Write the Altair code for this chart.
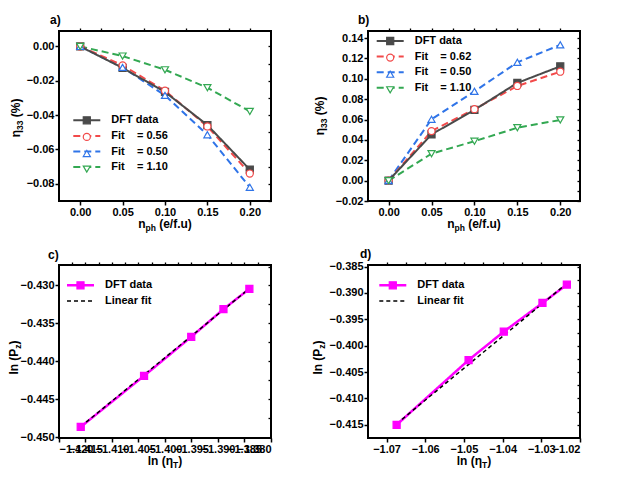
import altair as alt
import pandas as pd

FONT = "Liberation Sans"
NB = "\u00a0"

# ---------------- data ----------------
n_ph = [0.0, 0.05, 0.10, 0.15, 0.20]

a_names = ["DFT data", "Fit" + NB * 4 + "= 0.56", "Fit" + NB * 4 + "= 0.50", "Fit" + NB * 4 + "= 1.10"]
a_dft = [0.0, -0.0125, -0.0265, -0.0458, -0.0717]
a_fit1 = [0.0, -0.011, -0.0258, -0.0466, -0.074]
a_fit2 = [0.0, -0.0122, -0.0285, -0.0514, -0.082]
a_fit3 = [0.0, -0.0056, -0.0136, -0.024, -0.0378]

b_names = ["DFT data", "Fit" + NB * 4 + "= 0.62", "Fit" + NB * 4 + "= 0.50", "Fit" + NB * 4 + "= 1.10"]
b_dft = [0.0, 0.0454, 0.0695, 0.096, 0.1123]
b_fit1 = [0.0, 0.0487, 0.0702, 0.093, 0.107]
b_fit2 = [0.0, 0.0603, 0.0877, 0.1162, 0.1334]
b_fit3 = [0.0, 0.0265, 0.0387, 0.052, 0.0596]

cd_names = ["DFT data", "Linear fit"]
c_x = [-1.4159, -1.40395, -1.39505, -1.38897, -1.38408]
c_y = [-0.44864, -0.44191, -0.43677, -0.43312, -0.43044]
c_fit_x = [-1.4159, -1.38408]
c_fit_y = [-0.4486, -0.4304]

d_x = [-1.0674, -1.0488, -1.0397, -1.0297, -1.0234]
d_y = [-0.4150, -0.40272, -0.39734, -0.3919, -0.38842]
d_fit_x = [-1.0674, -1.0234]
d_fit_y = [-0.4148, -0.3882]

# tick values (labelled axes)
a_xticks = [0.0, 0.05, 0.10, 0.15, 0.20]
a_yticks = [-0.08, -0.06, -0.04, -0.02, 0.0]
b_yticks = [-0.02, 0.0, 0.02, 0.04, 0.06, 0.08, 0.10, 0.12, 0.14]
c_xticks = [-1.420, -1.415, -1.410, -1.405, -1.400, -1.395, -1.390, -1.385, -1.380]
c_yticks = [-0.450, -0.445, -0.440, -0.435, -0.430]
d_xticks = [-1.07, -1.06, -1.05, -1.04, -1.03, -1.02]
d_yticks = [-0.415, -0.410, -0.405, -0.400, -0.395, -0.390, -0.385]
# mirror (top / right) tick values
ab_top = [0.0, 0.025, 0.05, 0.075, 0.10, 0.125, 0.15, 0.175, 0.20]
a_right = [-0.09, -0.08, -0.07, -0.06, -0.05, -0.04, -0.03, -0.02, -0.01, 0.0]
b_right = [-0.02, -0.01, 0.0, 0.01, 0.02, 0.03, 0.04, 0.05, 0.06, 0.07, 0.08, 0.09,
           0.10, 0.11, 0.12, 0.13, 0.14]
c_top = [-1.4175, -1.415, -1.4125, -1.41, -1.4075, -1.405, -1.4025, -1.40, -1.3975,
         -1.395, -1.3925, -1.39, -1.3875, -1.385, -1.3825]
c_right = [-0.4475, -0.445, -0.4425, -0.44, -0.4375, -0.435, -0.4325, -0.43, -0.4275]
d_top = [-1.07, -1.065, -1.06, -1.055, -1.05, -1.045, -1.04, -1.035, -1.03, -1.025]
d_right = [-0.415, -0.4125, -0.41, -0.4075, -0.405, -0.4025, -0.40, -0.3975, -0.395,
           -0.3925, -0.39, -0.3875, -0.385]

GRAY, RED, BLUE, GREEN = "#4a4a4a", "#f24a4a", "#2f74e8", "#33a852"
MAG = "#ff00ff"

EM = {"l": .278, "n": .611, " ": .278, "(": .333, ")": .333, "P": .667, "z": .5,
      "T": .611, "\u03b7": .611, "e": .556, "/": .278, "f": .333, ".": .278,
      "u": .611, "p": .611, "h": .611, "3": .556, "%": .889}
MAIN, SUB = 12, 8.5


def tw(s, size):
    return sum(EM.get(ch, 0.6) for ch in s) * size


def title_layers(pieces, x, y, angle=0):
    # pieces: (text, is_subscript, gap_before_px)
    total = sum(tw(t, SUB if s else MAIN) + g for t, s, g in pieces)
    cur = -total / 2
    out = []
    for t, s, g in pieces:
        cur += g
        size = SUB if s else MAIN
        kw = dict(align="left", baseline="alphabetic", font=FONT, fontWeight="bold",
                  fontSize=size, dx=cur, dy=3 if s else 0, color="black")
        if angle:
            kw["angle"] = angle
        out.append(alt.Chart(pd.DataFrame({"t": [t]})).mark_text(**kw).encode(
            x=alt.value(x), y=alt.value(y), text="t:N"))
        cur += tw(t, size)
    return out


def long_df(xs_list, ys_list, names):
    rows = []
    for xs, ys, nm in zip(xs_list, ys_list, names):
        for xv, yv in zip(xs, ys):
            rows.append({"x": xv, "y": yv, "series": nm, "key": "p_" + nm})
    return pd.DataFrame(rows)


def panel(line_df, pt_df, names, pt_names, colors, dashes, widths, shapes, fills,
          xdom, xticks, xfmt, ydom, yticks, yfmt, top_t, right_t, W, H, label,
          label_dx, label_dy, xtitle, ytitle, ytx, yty, lx, ly, pt_colors):
    xs = alt.Scale(domain=xdom, nice=False, zero=False)
    ys = alt.Scale(domain=ydom, nice=False, zero=False)
    common_leg = dict(title=None, orient="none", legendX=lx, legendY=ly,
                      labelFont=FONT, labelFontSize=11, labelFontWeight="bold",
                      labelColor="black", rowPadding=3.6, padding=0, symbolOffset=8,
                      labelLimit=300)
    leg_line = alt.Legend(symbolType="M-4,0L4,0", symbolSize=45.5625, symbolStrokeWidth=2,
                          labelOffset=19, **common_leg)
    leg_pt = alt.Legend(symbolSize=50, symbolStrokeWidth=1.2, labelOffset=19,
                        labelOpacity=0, **common_leg)
    ax_kw = dict(title=None, labelFont=FONT, labelFontSize=11, labelFontWeight="bold",
                 labelColor="black", tickColor="black", tickWidth=1.5, tickSize=4,
                 labelPadding=1, domain=False, grid=False, labelOverlap=False,
                 labelBound=False)
    line = alt.Chart(line_df).mark_line(clip=True).encode(
        x=alt.X("x:Q", scale=xs, axis=alt.Axis(orient="bottom", values=xticks,
                                                format=xfmt, **ax_kw)),
        y=alt.Y("y:Q", scale=ys, axis=alt.Axis(orient="left", values=yticks,
                                                format=yfmt, **ax_kw)),
        color=alt.Color("series:N", scale=alt.Scale(domain=names, range=colors),
                        legend=leg_line),
        strokeDash=alt.StrokeDash("series:N", scale=alt.Scale(domain=names, range=dashes),
                                  legend=leg_line),
        strokeWidth=alt.StrokeWidth("series:N", scale=alt.Scale(domain=names, range=widths),
                                    legend=None),
    )
    mir_kw = dict(title=None, labels=False, tickColor="black", tickWidth=1.3,
                  tickSize=3, domain=False, grid=False)
    keys = ["p_" + n for n in pt_names]
    pts = alt.Chart(pt_df).mark_point(size=50, strokeWidth=1.2, opacity=1,
                                      filled=False, clip=True).encode(
        x=alt.X("x:Q", scale=xs, axis=alt.Axis(orient="top", values=top_t, **mir_kw)),
        y=alt.Y("y:Q", scale=ys, axis=alt.Axis(orient="left", offset=-W,
                                                values=right_t, **mir_kw)),
        stroke=alt.Stroke("key:N", scale=alt.Scale(domain=keys, range=pt_colors),
                          legend=leg_pt),
        fill=alt.Fill("key:N", scale=alt.Scale(domain=keys, range=fills), legend=leg_pt),
        shape=alt.Shape("key:N", scale=alt.Scale(domain=keys, range=shapes),
                        legend=leg_pt),
    )
    lab = alt.Chart(pd.DataFrame({"t": [label]})).mark_text(
        align="left", baseline="alphabetic", font=FONT, fontWeight="bold",
        fontSize=12, color="black").encode(
        x=alt.value(label_dx), y=alt.value(label_dy), text="t:N")
    layers = [line, pts, lab]
    layers += title_layers(xtitle, W / 2, H + 27)
    layers += title_layers(ytitle, ytx, H / 2 + yty, angle=270)
    return alt.layer(*layers).resolve_axis(x="independent", y="independent").properties(
        width=W, height=H)


a_line = long_df([n_ph] * 4, [a_fit3, a_fit2, a_fit1, a_dft], a_names[::-1])
a_pt = long_df([n_ph] * 4, [a_dft, a_fit1, a_fit2, a_fit3], a_names)
b_line = long_df([n_ph] * 4, [b_fit3, b_fit2, b_fit1, b_dft], b_names[::-1])
b_pt = long_df([n_ph] * 4, [b_dft, b_fit1, b_fit2, b_fit3], b_names)
c_line = long_df([c_x, c_fit_x], [c_y, c_fit_y], cd_names)
c_pt = long_df([c_x], [c_y], cd_names[:1])
d_line = long_df([d_x, d_fit_x], [d_y, d_fit_y], cd_names)
d_pt = long_df([d_x], [d_y], cd_names[:1])

four_colors = [GRAY, RED, BLUE, GREEN]
four_dash = [[1, 0], [7, 4], [7, 4], [7, 4]]
four_w = [2, 2, 2, 2]
four_shapes = ["square", "circle", "triangle-up", "triangle-down"]
four_fills = [GRAY, "white", "white", "white"]

eta33 = [("\u03b7", False, 0), ("33", True, 0), ("(%)", False, 3.3)]
nph = [("n", False, 0), ("ph", True, 0), ("(e/f.u)", False, 3.3)]
lnP = [("ln", False, 0), ("(P", False, 3.3), ("z", True, 0), (")", False, 0)]
lnE = [("ln", False, 0), ("(\u03b7", False, 3.3), ("T", True, 0), (")", False, 0)]

WL, WR, HT, HB = 212, 212, 170, 173

pa = panel(a_line, a_pt, a_names, a_names, four_colors, four_dash, four_w,
           four_shapes, four_fills, [-0.025, 0.225], a_xticks, ".2f",
           [-0.09, 0.009], a_yticks, ".2f", ab_top, a_right, WL, HT, "a)", -9, -7.5,
           nph, eta33, -39, 2, 14.3, 83.8, four_colors)
pb = panel(b_line, b_pt, b_names, b_names, four_colors, four_dash, four_w,
           four_shapes, four_fills, [-0.024, 0.223], a_xticks, ".2f",
           [-0.02, 0.147], b_yticks, ".2f", ab_top, b_right, WR, HT, "b)", -10, -7.5,
           nph, eta33, -44.5, 0, 8.7, 4.5, four_colors)
pc = panel(c_line, c_pt, cd_names, cd_names[:1], [MAG, "black"], [[1, 0], [4, 3]],
           [2.5, 1.5], ["square"], [MAG], [-1.42, -1.38], c_xticks, ".3f",
           [-0.4501, -0.4273], c_yticks, ".3f", c_top, c_right, WL, HB, "c)", -11, -6.5,
           lnE, lnP, -41, 6, 8, 14.8, [MAG])
pd_ = panel(d_line, d_pt, cd_names, cd_names[:1], [MAG, "black"], [[1, 0], [4, 3]],
            [2.5, 1.5], ["square"], [MAG], [-1.0748, -1.02], d_xticks, ".2f",
            [-0.4175, -0.3847], d_yticks, ".3f", d_top, d_right, WR, HB, "d)", -8, -7,
            lnE, lnP, -46, 6, 11.3, 14.8, [MAG])

chart = alt.concat(pa, pb, pc, pd_, columns=2, spacing={"row": 13, "column": 38}).resolve_scale(
    color="independent", stroke="independent", fill="independent", shape="independent",
    strokeDash="independent", strokeWidth="independent").resolve_legend(
    color="independent", stroke="independent", fill="independent", shape="independent",
    strokeDash="independent").configure_view(
    stroke="black", strokeWidth=2).properties(
    padding={"left": -1, "top": 4, "right": 0, "bottom": 0})

chart.save("out.html", embed_options={"renderer": "svg", "actions": False})
